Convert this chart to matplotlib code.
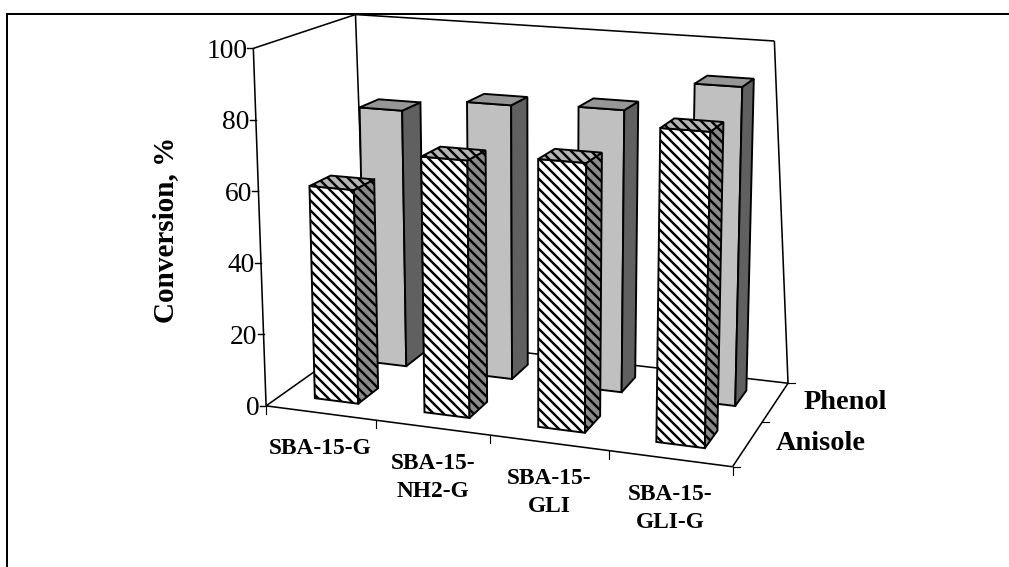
import numpy as np
import matplotlib
matplotlib.use("Agg")
import matplotlib.pyplot as plt
from matplotlib.patches import Polygon

categories = ["SBA-15-G", "SBA-15-\nNH2-G", "SBA-15-\nGLI", "SBA-15-\nGLI-G"]
series_names = ["Anisole", "Phenol"]
anisole = [60, 71, 73, 84]
phenol = [76, 80, 81, 90]
y_ticks = [0, 20, 40, 60, 80, 100]

plt.rcParams["font.family"] = ["Liberation Serif", "DejaVu Serif"]
plt.rcParams["hatch.linewidth"] = 1.45

BAR_GAP = 0.3  # margin on each side of a bar, in category/series units
SPREAD_CENTER = 540  # bars fan out sideways from this x as they rise
SPREAD = 0.04
STRIPES = chr(92) * 4

# box corners (category, series, value) -> where they land on the page
box_corners = [
    ((0, 0, 0), (267, 405)),
    ((4, 0, 0), (733, 467)),
    ((0, 2, 0), (366, 335)),
    ((4, 2, 0), (788, 383)),
    ((0, 0, 100), (252, 49)),
    ((0, 2, 100), (357, 14)),
    ((4, 2, 100), (774, 41)),
]


def fit_camera(corners):
    rows = []
    for (u, d, z), (x, y) in corners:
        p = [u, d, z, 1]
        rows.append(p + [0, 0, 0, 0] + [-x * v for v in p])
        rows.append([0, 0, 0, 0] + p + [-y * v for v in p])
    return np.linalg.svd(np.array(rows, dtype=float))[2][-1].reshape(3, 4)


camera = fit_camera(box_corners)


def project(u, d, z):
    h = camera @ np.array([u, d, z, 1.0])
    return h[0] / h[2], h[1] / h[2]


def project_bar(u, d, z):
    # same floor and height as the box, but the bar edges have their own lean
    fx = project(u, d, 0)[0]
    return fx + (fx - SPREAD_CENTER) * SPREAD * z / 100, project(u, d, z)[1]


def draw_line(ax, a, b, z=1):
    pa, pb = project(*a), project(*b)
    ax.plot([pa[0], pb[0]], [pa[1], pb[1]], color="black", lw=0.95, zorder=z, solid_capstyle="butt")


def draw_face(ax, pts, color, hatch, z):
    ax.add_patch(Polygon([project_bar(*p) for p in pts], closed=True, facecolor=color, edgecolor="black",
                         lw=1.15, hatch=hatch, joinstyle="miter", zorder=z))


def draw_bar(ax, i, j, value, colors, hatch, z):
    u0, u1 = i + BAR_GAP, i + 1 - BAR_GAP
    d0, d1 = j + BAR_GAP, j + 1 - BAR_GAP
    front, side, top = colors
    draw_face(ax, [(u0, d0, 0), (u1, d0, 0), (u1, d0, value), (u0, d0, value)], front, hatch, z)
    draw_face(ax, [(u1, d0, 0), (u1, d1, 0), (u1, d1, value), (u1, d0, value)], side, hatch, z)
    draw_face(ax, [(u0, d0, value), (u1, d0, value), (u1, d1, value), (u0, d1, value)], top, hatch, z)


fig = plt.figure(figsize=(1010 / 120, 567 / 120), dpi=120)
ax = fig.add_axes([0, 0, 1, 1])
ax.set_xlim(0, 1010)
ax.set_ylim(567, 0)
ax.axis("off")

# outer frame, open on the right and at the bottom
ax.plot([7.5, 7.5, 1010], [567, 14, 14], color="black", lw=1.2, solid_joinstyle="miter")

# walls and floor
n_cat, n_ser = len(categories), len(series_names)
draw_line(ax, (0, 0, 0), (0, 0, 100))
draw_line(ax, (0, 0, 100), (0, n_ser, 100))
draw_line(ax, (0, n_ser, 100), (0, n_ser, 0))
draw_line(ax, (0, n_ser, 100), (n_cat, n_ser, 100))
draw_line(ax, (n_cat, n_ser, 100), (n_cat, n_ser, 0))
draw_line(ax, (0, 0, 0), (0, n_ser, 0))
draw_line(ax, (0, n_ser, 0), (n_cat, n_ser, 0))
draw_line(ax, (n_cat, n_ser, 0), (n_cat, 0, 0))
draw_line(ax, (0, 0, 0), (n_cat, 0, 0))

# value axis ticks and labels
for t in y_ticks:
    x, y = project(0, 0, t)
    ax.plot([x - 6, x], [y, y], color="black", lw=0.85)
    ax.text(x - 6, y, str(t), ha="right", va="center_baseline", fontsize=16.5)

# category ticks and labels
for i in range(n_cat + 1):
    x, y = project(i, 0, 0)
    ax.plot([x, x], [y, y + 8], color="black", lw=0.7)
for i, name in enumerate(categories):
    x, y = project(i + 0.5, 0, 0)
    ax.text(x, y + 25, name, ha="center", va="top", fontsize=14, fontweight="bold", linespacing=1.45)

# series ticks and labels
for j in range(n_ser + 1):
    x, y = project(n_cat, j, 0)
    ax.plot([x, x + 7], [y, y], color="black", lw=0.7)
for j, name in enumerate(series_names):
    x, y = project(n_cat, j + 0.5, 0)
    ax.text(x + 28, y, name, ha="left", va="center", fontsize=17, fontweight="bold")

ax.text(166, 230, "Conversion, %", rotation=90, ha="center", va="center", fontsize=17.5, fontweight="bold")

# back row first so the front row covers it
for i, value in enumerate(phenol):
    draw_bar(ax, i, 1, value, ("#c0c0c0", "#606060", "#969696"), None, 3)
for i, value in enumerate(anisole):
    draw_bar(ax, i, 0, value, ("white", "#8a8a8a", "#b4b4b4"), STRIPES, 4)

fig.savefig("out.png", dpi=120)
